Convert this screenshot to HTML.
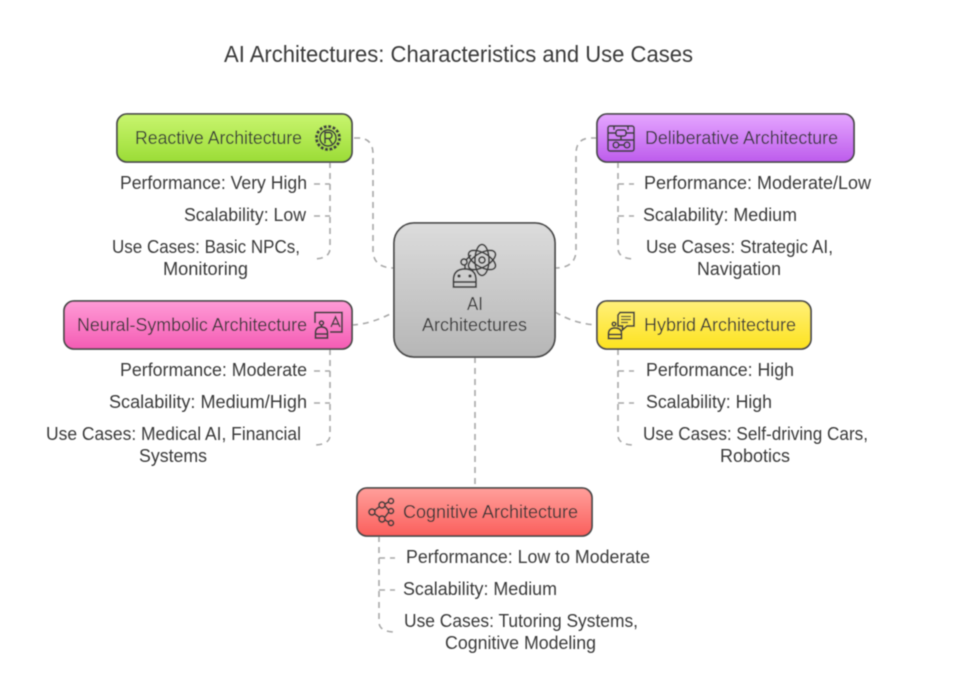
<!DOCTYPE html>
<html><head><meta charset="utf-8"><style>
html,body{margin:0;padding:0;background:#fff;width:968px;height:692px;overflow:hidden}
svg{display:block}
text{font-family:"Liberation Sans",sans-serif;fill:#3a3a3a;font-size:18px}
.d{fill:none;stroke:#a8a8a8;stroke-width:1.6;stroke-dasharray:6 5}
.b{stroke:#4a4a4a;stroke-width:1.8}
.i{fill:none;stroke:#3f3f3f;stroke-width:1.7}
</style></head><body>
<svg width="968" height="692" viewBox="0 0 968 692" xmlns="http://www.w3.org/2000/svg">
<defs>
<linearGradient id="g1" x1="0" y1="0" x2="0" y2="1"><stop offset="0" stop-color="#c9f56f"/><stop offset="1" stop-color="#9bdc36"/></linearGradient>
<linearGradient id="g2" x1="0" y1="0" x2="0" y2="1"><stop offset="0" stop-color="#e5a6ff"/><stop offset="1" stop-color="#bd5cec"/></linearGradient>
<linearGradient id="g3" x1="0" y1="0" x2="0" y2="1"><stop offset="0" stop-color="#ff9bd6"/><stop offset="1" stop-color="#f45cb4"/></linearGradient>
<linearGradient id="g4" x1="0" y1="0" x2="0" y2="1"><stop offset="0" stop-color="#fff07a"/><stop offset="1" stop-color="#fde21e"/></linearGradient>
<linearGradient id="g5" x1="0" y1="0" x2="0" y2="1"><stop offset="0" stop-color="#ff9f9b"/><stop offset="1" stop-color="#fb5f5c"/></linearGradient>
<linearGradient id="g6" x1="0" y1="0" x2="0" y2="1"><stop offset="0" stop-color="#dcdcdc"/><stop offset="1" stop-color="#b6b6b6"/></linearGradient>
<filter id="s" x="-2%" y="-2%" width="104%" height="104%"><feGaussianBlur stdDeviation="0.45"/></filter>
</defs>
<g filter="url(#s)">
<text x="224" y="62" style="font-size:23px" textLength="469" lengthAdjust="spacingAndGlyphs">AI Architectures: Characteristics and Use Cases</text>

<!-- main connectors -->
<path class="d" d="M354 138H358Q373 138 373 154V250Q373 268 394 268"/>
<path class="d" d="M597 138H591Q576 138 576 154V250Q576 268 555 268"/>
<path class="d" d="M352 325Q372 324 394 312"/>
<path class="d" d="M555 312Q575 324 597 325"/>
<path class="d" d="M475 357V488"/>

<!-- sub connectors -->
<path class="d" d="M330 162V248Q330 259 313 259"/>
<path class="d" d="M314 184H330M314 216H330"/>
<path class="d" d="M618 162V248Q618 259 635 259"/>
<path class="d" d="M618 184H634M618 216H634"/>
<path class="d" d="M330 349V435Q330 445 313 445"/>
<path class="d" d="M314 371H330M314 403H330"/>
<path class="d" d="M618 349V435Q618 445 635 445"/>
<path class="d" d="M618 371H634M618 403H634"/>
<path class="d" d="M379 536V622Q379 632 396 632"/>
<path class="d" d="M379 558H395M379 590H395"/>

<!-- boxes -->
<rect class="b" x="117" y="114" width="235" height="48" rx="10" fill="url(#g1)"/>
<rect class="b" x="597" y="114" width="257" height="48" rx="10" fill="url(#g2)"/>
<rect class="b" x="64" y="301" width="288" height="48" rx="10" fill="url(#g3)"/>
<rect class="b" x="597" y="301" width="214" height="48" rx="10" fill="url(#g4)"/>
<rect class="b" x="357" y="488" width="235" height="48" rx="10" fill="url(#g5)"/>
<rect class="b" x="394" y="223" width="161" height="134" rx="20" fill="url(#g6)"/>

<!-- box labels -->
<text x="135" y="144" textLength="167" lengthAdjust="spacingAndGlyphs">Reactive Architecture</text>
<text x="645" y="144" textLength="193" lengthAdjust="spacingAndGlyphs">Deliberative Architecture</text>
<text x="77" y="331" textLength="230" lengthAdjust="spacingAndGlyphs">Neural-Symbolic Architecture</text>
<text x="644" y="331" textLength="152" lengthAdjust="spacingAndGlyphs">Hybrid Architecture</text>
<text x="403" y="518" textLength="175" lengthAdjust="spacingAndGlyphs">Cognitive Architecture</text>
<text x="467" y="310" textLength="16" lengthAdjust="spacingAndGlyphs">AI</text>
<text x="422" y="331" textLength="105" lengthAdjust="spacingAndGlyphs">Architectures</text>

<!-- left lists -->
<text x="120" y="189" textLength="187" lengthAdjust="spacingAndGlyphs">Performance: Very High</text>
<text x="184" y="221" textLength="122" lengthAdjust="spacingAndGlyphs">Scalability: Low</text>
<text x="112" y="253" textLength="188" lengthAdjust="spacingAndGlyphs">Use Cases: Basic NPCs,</text>
<text x="163" y="275" textLength="85" lengthAdjust="spacingAndGlyphs">Monitoring</text>

<text x="120" y="376" textLength="187" lengthAdjust="spacingAndGlyphs">Performance: Moderate</text>
<text x="109" y="408" textLength="198" lengthAdjust="spacingAndGlyphs">Scalability: Medium/High</text>
<text x="46" y="440" textLength="255" lengthAdjust="spacingAndGlyphs">Use Cases: Medical AI, Financial</text>
<text x="139" y="462" textLength="68" lengthAdjust="spacingAndGlyphs">Systems</text>

<!-- right lists -->
<text x="644" y="189" textLength="227" lengthAdjust="spacingAndGlyphs">Performance: Moderate/Low</text>
<text x="643" y="221" textLength="154" lengthAdjust="spacingAndGlyphs">Scalability: Medium</text>
<text x="646" y="253" textLength="187" lengthAdjust="spacingAndGlyphs">Use Cases: Strategic AI,</text>
<text x="697" y="275" textLength="84" lengthAdjust="spacingAndGlyphs">Navigation</text>

<text x="646" y="376" textLength="148" lengthAdjust="spacingAndGlyphs">Performance: High</text>
<text x="646" y="408" textLength="126" lengthAdjust="spacingAndGlyphs">Scalability: High</text>
<text x="643" y="440" textLength="225" lengthAdjust="spacingAndGlyphs">Use Cases: Self-driving Cars,</text>
<text x="720" y="462" textLength="70" lengthAdjust="spacingAndGlyphs">Robotics</text>

<text x="406" y="563" textLength="244" lengthAdjust="spacingAndGlyphs">Performance: Low to Moderate</text>
<text x="403" y="595" textLength="154" lengthAdjust="spacingAndGlyphs">Scalability: Medium</text>
<text x="404" y="627" textLength="234" lengthAdjust="spacingAndGlyphs">Use Cases: Tutoring Systems,</text>
<text x="445" y="649" textLength="151" lengthAdjust="spacingAndGlyphs">Cognitive Modeling</text>

<!-- reactive icon -->
<g class="i">
<circle cx="328" cy="138" r="11.500" style="stroke-width:3;stroke-dasharray:3 1.500"/>
<circle cx="328" cy="138" r="8"/>
<path d="M325 143.500V132.500H329A3 3 0 0 1 329 138.500H325M329 138.500L332 143.500"/>
</g>

<!-- deliberative icon -->
<g class="i">
<rect x="608" y="126" width="26" height="25" rx="2"/>
<rect x="616" y="130" width="10" height="6" rx="2"/>
<path d="M608 133H616M626 133H634M608 140H634M621 136V140"/>
<circle cx="616" cy="145" r="2.800"/><circle cx="627" cy="145" r="2.800"/>
<path d="M619 145H624M614 126V130M628 126V130"/>
</g>

<!-- neural icon -->
<g class="i">
<path d="M315 323V312.500H342V332H330"/>
<path d="M331 327L335.500 317L340 327M332.500 324H338.500" style="stroke-width:1.500"/>
<circle cx="321.500" cy="323" r="2"/>
<path d="M321.500 325V327"/>
<path d="M315.500 333Q315.500 327 321.500 327Q327.500 327 327.500 333V338H315.500Z"/>
<path d="M315.500 334H327.500"/>
</g>

<!-- hybrid icon -->
<g class="i">
<path d="M620 312.500H634V326H627L622.500 330V326H618V315Z"/>
<path d="M621 316.500H631M621 319.500H631M621 322.500H628" style="stroke-width:1.200"/>
<circle cx="614" cy="324" r="1.800"/>
<path d="M608.500 334Q608.500 328 615 328Q621.500 328 621.500 334V338.500H608.500Z"/>
<path d="M608.500 334.500H621.500"/>
</g>

<!-- cognitive icon -->
<g class="i">
<circle cx="372" cy="512" r="3"/>
<circle cx="382" cy="505" r="3"/><circle cx="382" cy="519" r="3"/>
<circle cx="391" cy="501" r="2.500"/><circle cx="391" cy="511" r="2.500"/><circle cx="391" cy="523" r="2.500"/>
<path d="M375 510L379 507M375 514L379 517M385 504L388.500 502M385 506L388.500 510M385 517L388.500 512.500M385 520L388.500 522"/>
</g>

<!-- centre icon -->
<g class="i">
<ellipse cx="482" cy="260" rx="15" ry="7" transform="rotate(30 482 260)"/>
<ellipse cx="482" cy="260" rx="15" ry="7" transform="rotate(-30 482 260)"/>
<ellipse cx="482" cy="260" rx="7" ry="15.500"/>
<circle cx="482" cy="260" r="3"/>
<circle cx="464" cy="262" r="3"/>
<path d="M465 265L465 269M466 260L471 255"/>
<path d="M453.500 287V280Q453.500 269 465 269Q476 269 476 280V287Z"/>
<path d="M453.500 282H476"/>
<circle cx="459" cy="276" r="0.800"/><circle cx="470" cy="276" r="0.800"/>
</g>
</g>
</svg>
</body></html>
